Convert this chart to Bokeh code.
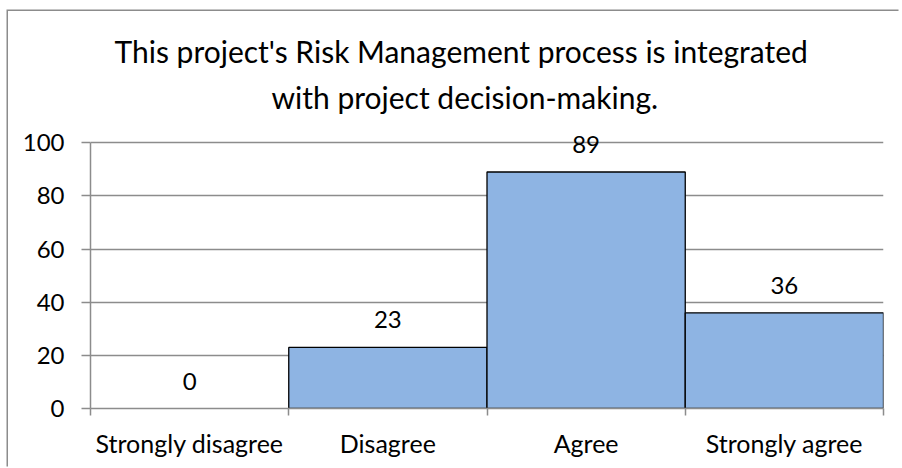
from bokeh.plotting import figure
from bokeh.models import ColumnDataSource, FixedTicker, LabelSet, Range1d, Title
from bokeh.core.properties import value
from bokeh.embed import file_html
from bokeh.resources import INLINE

categories = ["Strongly disagree", "Disagree", "Agree", "Strongly agree"]
counts = [0, 23, 89, 36]
y_ticks = [0, 20, 40, 60, 80, 100]
title_lines = ["This project's Risk Management process is integrated",
               "with project decision-making."]

FONT = "Lato"
GRAY = "#8c8c8c"

pos = [i + 0.5 for i in range(len(categories))]
src = ColumnDataSource(dict(
    x=pos,
    top=counts,
    label=[str(c) for c in counts],
    lc=["black" if c > 0 else None for c in counts],
))

p = figure(width=892, height=457, x_range=Range1d(0, len(categories)),
           y_range=Range1d(y_ticks[0], 108),
           output_backend="svg", toolbar_location=None,
           min_border_left=82, min_border_right=17,
           min_border_top=110, min_border_bottom=60)
p.styles = {"margin-left": "8px", "margin-top": "11px",
            "box-shadow": f"-1.5px -1.5px 0 0 {GRAY}"}
p.outline_line_color = None
p.background_fill_color = "white"
p.border_fill_color = "white"

p.vbar(x="x", top="top", bottom=0, width=1, source=src,
       fill_color="#8EB4E3", line_color="lc", line_width=1.3)

labels = LabelSet(x="x", y="top", text="label", source=src, y_offset=19,
                  text_align="center", text_baseline="alphabetic",
                  text_font=value(FONT), text_font_size="24px", text_color="black")
p.add_layout(labels)

# x axis
p.xaxis.ticker = FixedTicker(ticks=pos, minor_ticks=list(range(len(categories) + 1)))
p.xaxis.major_label_overrides = {x: c for x, c in zip(pos, categories)}
p.xaxis.major_tick_out = 0
p.xaxis.major_tick_in = 0
p.xaxis.minor_tick_out = 7
p.xaxis.minor_tick_in = 0
p.xaxis.minor_tick_line_color = GRAY
p.xaxis.minor_tick_line_width = 1.5
p.xaxis.axis_line_color = GRAY
p.xaxis.axis_line_width = 1.5
p.xaxis.major_label_text_font = FONT
p.xaxis.major_label_text_font_size = "25px"
p.xaxis.major_label_text_color = "black"
p.xaxis.major_label_standoff = 12

# y axis
p.yaxis.ticker = FixedTicker(ticks=y_ticks, minor_ticks=[])
p.yaxis.bounds = (y_ticks[0], y_ticks[-1])
p.yaxis.major_tick_out = 9
p.yaxis.major_tick_in = 0
p.yaxis.major_tick_line_color = GRAY
p.yaxis.major_tick_line_width = 1.5
p.yaxis.axis_line_color = GRAY
p.yaxis.axis_line_width = 1.5
p.yaxis.major_label_text_font = FONT
p.yaxis.major_label_text_font_size = "24px"
p.yaxis.major_label_text_color = "black"
p.yaxis.major_label_standoff = 17

p.xgrid.visible = False
p.ygrid.ticker = FixedTicker(ticks=y_ticks)
p.ygrid.grid_line_color = GRAY
p.ygrid.grid_line_width = 1.5

# title lines: later-added titles sit further from the frame
for line, so, off in [(title_lines[1], 14, 181), (title_lines[0], 2, 24)]:
    p.add_layout(Title(text=line, align="left", offset=off, text_font=FONT,
                       text_font_size="30px", text_font_style="normal",
                       text_color="black", standoff=so), "above")

open("out.html", "w").write(file_html(p, INLINE))
